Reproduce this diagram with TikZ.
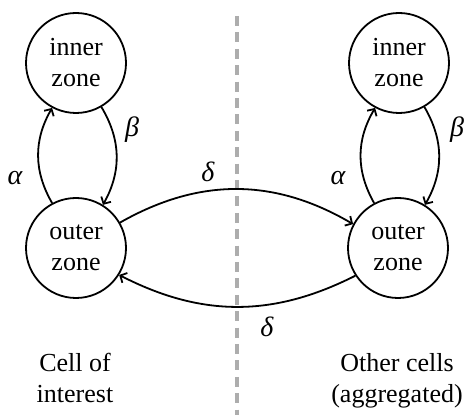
\documentclass[tikz,border=0pt]{standalone}
\usepackage{fontspec}
\setmainfont{Liberation Serif}
\usetikzlibrary{arrows.meta}
\begin{document}
\begin{tikzpicture}[x=0.5pt,y=-0.5pt,
  zone/.style={circle,draw,line width=0.9pt,minimum size=50pt,inner sep=0pt,align=center,font=\fontsize{13}{15.5}\selectfont},
  flow/.style={line width=0.9pt,-{Straight Barb[length=2.6pt,width=5.5pt]}},
  lbl/.style={font=\fontsize{14}{15}\selectfont\itshape,inner sep=0pt},
  caption/.style={align=center,font=\fontsize{13}{15.5}\selectfont,inner sep=0pt},
  divider/.style={line width=1.8pt,color=black!32,dash pattern=on 5pt off 3.2pt}]
\useasboundingbox (0,0) rectangle (465,415);
% divider
\coordinate (divtop) at (237,16);
\coordinate (divbot) at (237,420);
\draw[divider] (divtop) -- (divbot);
% zones
\node[zone] (innerL) at (76,63) {inner\\zone};
\node[zone] (outerL) at (76,248) {outer\\zone};
\node[zone] (innerR) at (399,63) {inner\\zone};
\node[zone] (outerR) at (398,248) {outer\\zone};
% transitions
\draw[flow] (outerL.118) to[bend left=30] (innerL.242);
\draw[flow] (innerL.300) to[bend left=30] (outerL.58);
\draw[flow] (outerR.118) to[bend left=30] (innerR.242);
\draw[flow] (innerR.300) to[bend left=30] (outerR.58);
\draw[flow] (outerL.30) to[bend left=30] (outerR.152);
\draw[flow] (outerR.213) to[bend left=27] (outerL.-32);
% labels
\node[lbl] (aL) at (15,178) {α};
\node[lbl] (bL) at (132,130) {β};
\node[lbl] (aR) at (338,178) {α};
\node[lbl] (bR) at (457,130) {β};
\node[lbl] (dT) at (208,172) {δ};
\node[lbl] (dB) at (267,327) {δ};
% captions
\node[caption] (capL) at (75,378) {Cell of\\interest};
\node[caption] (capR) at (397,381) {Other cells\\(aggregated)};
\end{tikzpicture}
\end{document}
